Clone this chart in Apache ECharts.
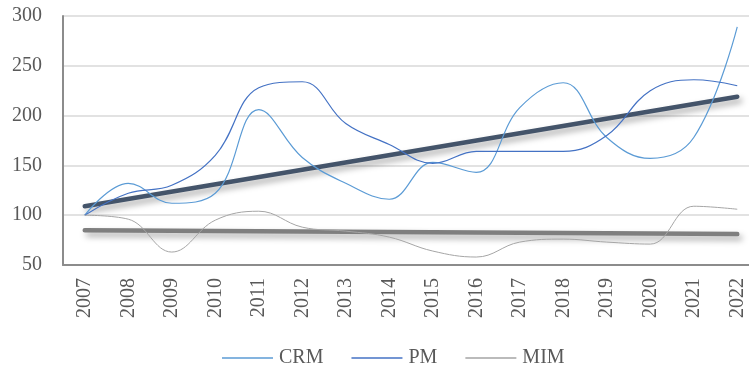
<!DOCTYPE html>
<html>
<head>
<meta charset="utf-8">
<style>html,body{margin:0;padding:0;background:#fff}#c{width:749px;height:371px}</style>
<script src="https://cdn.jsdelivr.net/npm/echarts@6/dist/echarts.min.js"></script>
</head>
<body>
<div id="c"></div>
<script>
var years = ['2007','2008','2009','2010','2011','2012','2013','2014','2015','2016','2017','2018','2019','2020','2021','2022'];
var crm = [100, 132, 112, 122, 206, 158, 132, 116, 153, 143, 208, 233, 178, 157, 178, 289];
var pm  = [100, 122, 130, 160, 228, 234, 192, 171, 152, 164, 164, 164, 180, 225, 236, 230];
var mim = [100, 96, 63, 95, 104, 88, 84, 78, 64, 58, 73, 76, 73, 71, 109, 106];
var pmTrendEnds = [109, 219];
var mimTrendEnds = [85, 81];
var yTicks = {min: 50, max: 300, interval: 50};

function trend(ends) {
  var d = years.map(function () { return null; });
  d[0] = ends[0];
  d[d.length - 1] = ends[1];
  return d;
}

var font = 'Liberation Serif';
var chart = echarts.init(document.getElementById('c'));
chart.setOption({
  animation: false,
  grid: {left: 63, top: 16, width: 696, bottom: 106, containLabel: false, outerBoundsMode: 'none'},
  legend: {
    data: ['CRM', 'PM', 'MIM'],
    left: 222, top: 348, padding: 0,
    icon: 'rect', itemWidth: 51, itemHeight: 1.5, itemGap: 28,
    textStyle: {fontFamily: font, fontSize: 20, color: '#595959', padding: [0, 0, 0, 1]}
  },
  xAxis: {
    type: 'category', data: years, boundaryGap: true,
    axisLine: {lineStyle: {color: '#8c8c8c', width: 2}},
    axisTick: {show: false},
    axisLabel: {rotate: 90, margin: 13, fontFamily: font, fontSize: 20, color: '#595959'}
  },
  yAxis: {
    type: 'value', min: yTicks.min, max: yTicks.max, interval: yTicks.interval,
    axisLine: {show: true, lineStyle: {color: '#8c8c8c', width: 2}},
    axisTick: {show: false},
    splitLine: {lineStyle: {color: '#d9d9d9', width: 1.5}},
    axisLabel: {margin: 21, fontFamily: font, fontSize: 20, color: '#595959'}
  },
  series: [
    {name: 'PM trend', type: 'line', data: trend(pmTrendEnds), connectNulls: true, showSymbol: false, symbol: 'none', z: 3,
     lineStyle: {color: '#44546A', width: 4.5, cap: 'round', shadowColor: 'rgba(0,0,0,0.35)', shadowBlur: 6, shadowOffsetX: 3, shadowOffsetY: 4}},
    {name: 'MIM trend', type: 'line', data: trend(mimTrendEnds), connectNulls: true, showSymbol: false, symbol: 'none', z: 3,
     lineStyle: {color: '#7F7F7F', width: 4.5, cap: 'round', shadowColor: 'rgba(0,0,0,0.35)', shadowBlur: 6, shadowOffsetX: 3, shadowOffsetY: 4}},
    {name: 'CRM', type: 'line', data: crm, smooth: 0.4, symbol: 'none', z: 4,
     itemStyle: {color: '#5B9BD5'}, lineStyle: {color: '#5B9BD5', width: 1.2}},
    {name: 'PM', type: 'line', data: pm, smooth: 0.4, symbol: 'none', z: 4,
     itemStyle: {color: '#4472C4'}, lineStyle: {color: '#4472C4', width: 1.2}},
    {name: 'MIM', type: 'line', data: mim, smooth: 0.4, symbol: 'none', z: 4,
     itemStyle: {color: '#A5A5A5'}, lineStyle: {color: '#A5A5A5', width: 1}}
  ]
});
</script>
</body>
</html>
